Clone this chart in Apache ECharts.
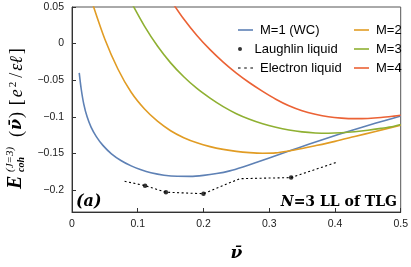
<!DOCTYPE html>
<html><head><meta charset="utf-8">
<script src="https://cdn.jsdelivr.net/npm/echarts@6/dist/echarts.min.js"></script>
<style>html,body{margin:0;padding:0;background:#fff}#c{width:411px;height:267px}</style>
</head><body><div id="c"></div>
<script>
// ---- data (nu_bar, E_coh) ----
const m1 = [[0.011,-0.040],[0.014,-0.062],[0.018,-0.083],[0.023,-0.100],[0.029,-0.114],[0.037,-0.127],[0.047,-0.139],[0.06,-0.1505],[0.075,-0.160],[0.09,-0.167],[0.105,-0.1724],[0.12,-0.1764],[0.14,-0.1797],[0.16,-0.1812],[0.18,-0.1813],[0.2,-0.1800],[0.22,-0.1775],[0.24,-0.1738],[0.26,-0.1685],[0.28,-0.1625],[0.30,-0.1562],[0.33,-0.1468],[0.36,-0.1375],[0.39,-0.1285],[0.42,-0.1200],[0.45,-0.1118],[0.475,-0.1053],[0.5,-0.099]];
const m2 = [[0.03,0.058],[0.05,0.006],[0.07,-0.035],[0.09,-0.0665],[0.11,-0.0890],[0.13,-0.1060],[0.15,-0.1190],[0.17,-0.1285],[0.19,-0.1355],[0.21,-0.1407],[0.23,-0.1445],[0.25,-0.1472],[0.27,-0.1489],[0.29,-0.1497],[0.31,-0.1493],[0.33,-0.1467],[0.35,-0.1433],[0.37,-0.1395],[0.40,-0.1335],[0.43,-0.1269],[0.46,-0.1203],[0.5,-0.1115]];
const m3 = [[0.09,0.0567],[0.11,0.0243],[0.13,-0.0033],[0.15,-0.0263],[0.17,-0.0453],[0.19,-0.0613],[0.21,-0.0745],[0.23,-0.0861],[0.25,-0.0957],[0.27,-0.1033],[0.29,-0.1095],[0.31,-0.1143],[0.33,-0.1180],[0.35,-0.1206],[0.37,-0.1220],[0.39,-0.1224],[0.41,-0.1218],[0.43,-0.1204],[0.45,-0.1184],[0.47,-0.1158],[0.49,-0.1128],[0.5,-0.1105]];
const m4 = [[0.15,0.0595],[0.17,0.0335],[0.19,0.0111],[0.21,-0.0083],[0.23,-0.0253],[0.25,-0.0403],[0.27,-0.0535],[0.29,-0.0652],[0.31,-0.0759],[0.33,-0.0849],[0.35,-0.0917],[0.37,-0.0965],[0.39,-0.1000],[0.41,-0.1018],[0.43,-0.1025],[0.45,-0.1022],[0.47,-0.1010],[0.49,-0.0990],[0.5,-0.0978]];
const laughlin = [[1/9,-0.194],[1/7,-0.203],[1/5,-0.205],[1/3,-0.183]];
const electron = [[0.08,-0.188],[0.111,-0.194],[0.143,-0.203],[0.2,-0.205],[0.255,-0.1845],[0.333,-0.183],[0.403,-0.162]];
const xTicks = [0,0.1,0.2,0.3,0.4,0.5];
const yTicks = [-0.2,-0.15,-0.1,-0.05,0,0.05];
const names = ['M=1 (WC)','Laughlin liquid','Electron liquid','M=2','M=3','M=4'];
const colors = {m1:'#5E81B5', m2:'#E19C24', m3:'#8FB032', m4:'#EB6235'};

const fmt = v => { if (Math.abs(v) < 1e-9) return '0'; return String(parseFloat(v.toFixed(3))).replace('-', '\u2212'); };
const chart = echarts.init(document.getElementById('c'), null, {renderer:'canvas'});
const lbl = {fontFamily:'Liberation Sans', fontSize:13, color:'#000', lineHeight:14, padding:[0,0,0,2]};
const lineIcon = 'path://M0,0H15V1.6H0Z';
const dashIcon = 'path://M0,0H2.6V1.2H0ZM6.2,0H8.8V1.2H6.2ZM12.4,0H15V1.2H12.4Z';
function lg(name, left, cy, icon, ih) {
  return {data:[{name:name, icon:icon}], left:left, top:cy-7, padding:0, itemWidth:15, itemHeight:ih||10, textStyle:lbl, selectedMode:false};
}
const serif = 'Liberation Serif';
const curve = (name, data, color) => ({name:name, type:'line', data:data, smooth:0.3, symbol:'none', lineStyle:{color:color, width:1.6}, itemStyle:{color:color}, z:3});
chart.setOption({
  animation:false,
  backgroundColor:'#fff',
  grid:{left:72, right:10, top:7, bottom:53, show:true, borderColor:'#555', borderWidth:1, containLabel:false},
  legend:[
    lg(names[0], 238, 30, lineIcon),
    lg(names[1], 238, 49, 'circle', 4),
    lg(names[2], 238, 68, dashIcon),
    lg(names[3], 354, 30, lineIcon),
    lg(names[4], 354, 49, lineIcon),
    lg(names[5], 354, 68, lineIcon)
  ],
  xAxis:{type:'value', min:0, max:0.5, interval:0.1,
    axisLine:{show:true, onZero:false, lineStyle:{color:'#333', width:1}},
    axisTick:{show:true, inside:true, length:4, lineStyle:{color:'#333'}},
    axisLabel:{formatter:fmt, fontFamily:'Liberation Sans', fontSize:10.5, color:'#222', margin:7},
    splitLine:{show:false},
    name:'\u03BD\u0304', nameLocation:'middle', nameGap:33,
    nameTextStyle:{fontFamily:'DejaVu Serif', fontStyle:'italic', fontWeight:'bold', fontSize:17, color:'#000'}
  },
  yAxis:{type:'value', min:-0.23, max:0.05,
    axisLine:{show:true, onZero:false, lineStyle:{color:'#333', width:1}},
    axisTick:{show:true, inside:true, length:4, lineStyle:{color:'#333'}, customValues:yTicks},
    axisLabel:{formatter:fmt, fontFamily:'Liberation Sans', fontSize:10.5, color:'#222', margin:8, customValues:yTicks},
    splitLine:{show:false}
  },
  graphic:[
    {type:'group', x:24, y:189, rotation:Math.PI/2, silent:true, children:[
      {type:'text', x:0, y:-8, style:{text:'E', font:'italic bold 20px "Liberation Serif"', fill:'#000', verticalAlign:'middle', align:'left'}},
      {type:'text', x:17, y:-14, style:{text:'(J=3)', font:'italic 11px "Liberation Serif"', fill:'#000', verticalAlign:'middle', align:'left'}},
      {type:'text', x:17, y:-3, style:{text:'coh', font:'italic bold 10px "Liberation Serif"', fill:'#000', verticalAlign:'middle', align:'left'}},
      {type:'text', x:52, y:-7, style:{
        text:'{n|(}{b|\u03BD\u0304}{n|)}  {n|[}{i|e}{s|2}{n|/}{i|\u03B5\u2113}{n|]}',
        verticalAlign:'middle', align:'left', fill:'#000',
        rich:{
          n:{fontFamily:serif, fontSize:18, fill:'#000'},
          b:{fontFamily:'DejaVu Serif', fontSize:16, fontStyle:'italic', fontWeight:'bold', fill:'#000', padding:[0,1,0,1]},
          i:{fontFamily:serif, fontSize:18, fontStyle:'italic', fill:'#000', padding:[0,2,0,2]},
          s:{fontFamily:serif, fontSize:11, fill:'#000', verticalAlign:'top', padding:[0,4,0,0]}
        }}}
    ]},
    {type:'text', left:76, top:194, silent:true, style:{text:'(a)', font:'italic bold 16px "DejaVu Serif"', fill:'#000'}},
    {type:'text', right:14, top:195, silent:true, style:{
      text:'{c|N}{t|=3 LL of TLG}', fill:'#000',
      rich:{c:{fontFamily:'DejaVu Serif', fontStyle:'italic', fontWeight:'bold', fontSize:14, fill:'#000'},
            t:{fontFamily:'DejaVu Serif', fontWeight:'bold', fontSize:14, fill:'#000'}}}}
  ],
  series:[
    curve(names[0], m1, colors.m1),
    curve(names[3], m2, colors.m2),
    curve(names[4], m3, colors.m3),
    curve(names[5], m4, colors.m4),
    {name:names[2], type:'line', data:electron, symbol:'none', lineStyle:{color:'#000', width:1.1, type:[2,2.5]}, itemStyle:{color:'#000'}, z:4},
    {name:names[1], type:'scatter', data:laughlin, symbol:'circle', symbolSize:4.5, itemStyle:{color:'#000'}, z:5}
  ]
});
</script></body></html>
